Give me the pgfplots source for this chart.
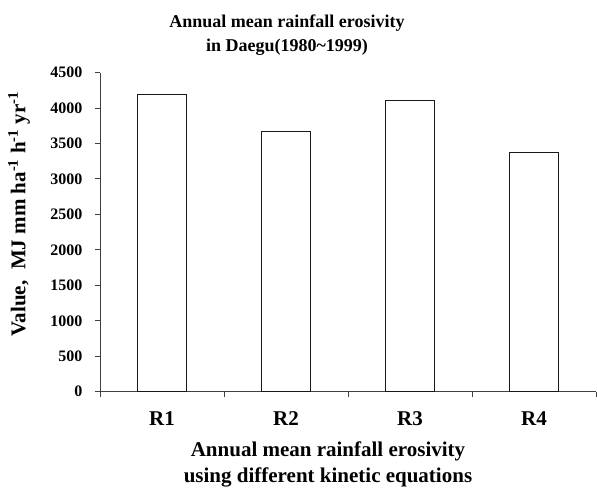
\documentclass[border=0pt]{standalone}
\usepackage{fontspec}
\setmainfont{Liberation Serif}
\usepackage{pgfplots}
\pgfplotsset{compat=1.18}
\begin{document}
\begin{tikzpicture}[x=1pt,y=1pt]
\useasboundingbox (-100,-96.3) rectangle (497,391.7);
\begin{axis}[
  at={(0,0)}, anchor=south west,
  scale only axis, width=496pt, height=319.2pt,
  xmin=-0.5, xmax=3.5, ymin=0, ymax=4500,
  axis lines=left,
  axis line style={-, draw=black!75, line width=0.9pt},
  every tick/.style={draw=black!75, line width=0.9pt},
  tick align=outside, major tick length=5pt,
  ytick={0,500,...,4500},
  xtick={-0.5,0.5,1.5,2.5,3.5},
  xticklabels={},
  extra x ticks={0,1,2,3},
  extra x tick labels={R1,R2,R3,R4},
  extra x tick style={major tick length=0pt},
  /pgf/number format/assume math mode=true,
  yticklabel style={font=\fontsize{16}{16}\selectfont\bfseries, xshift=-9pt},
  xticklabel style={font=\fontsize{21}{21}\selectfont\bfseries, yshift=-16pt},
  scaled y ticks=false,
  yticklabel={\pgfmathprintnumber[fixed,1000 sep={}]{\tick}},
]
\addplot[ybar, bar width=0.4, fill=white, draw=black!90, line width=0.9pt]
  coordinates {(0,4190) (1,3675) (2,4102) (3,3375)};
\end{axis}
\node[align=center, font=\fontsize{18}{24}\selectfont\bfseries] at (187,356.5)
  {Annual mean rainfall erosivity\\in Daegu(1980\textasciitilde1999)};
\node[align=center, font=\fontsize{21}{26}\selectfont\bfseries] at (228,-72.3)
  {Annual mean rainfall erosivity\\using different kinetic equations};
\node[rotate=90, font=\fontsize{21}{24}\selectfont\bfseries] at (-81,177.7)
  {Value,\ \ MJ mm ha\textsuperscript{-1} h\textsuperscript{-1} yr\textsuperscript{-1}};
\end{tikzpicture}
\end{document}
